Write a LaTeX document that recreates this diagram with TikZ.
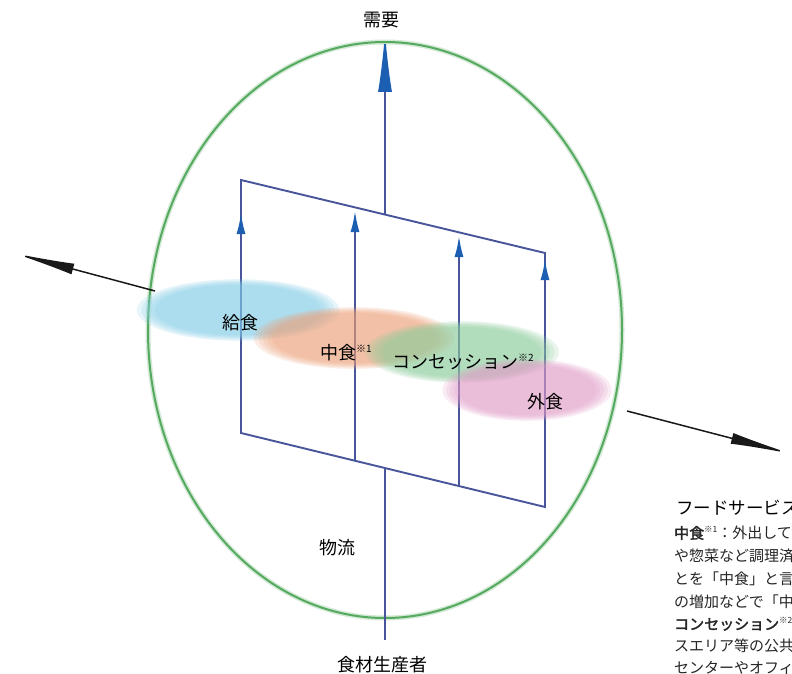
\documentclass[tikz,border=0pt]{standalone}
\usepackage{fontspec}
\newfontfamily\jp[AutoFakeBold=2]{Noto Sans CJK JP}
\usetikzlibrary{arrows.meta}
\definecolor{ovalgreen}{RGB}{85,170,95}
\definecolor{frameblue}{RGB}{72,85,155}
\definecolor{headblue}{RGB}{28,95,178}
\definecolor{kyublue}{RGB}{130,205,232}
\definecolor{nakaorange}{RGB}{238,160,120}
\definecolor{congreen}{RGB}{140,205,155}
\definecolor{gaipink}{RGB}{226,155,200}
\tikzset{
  frame/.style={draw=frameblue, line width=1.9pt},
  uparrow/.style={frame, -{Latex[length=21pt,width=9pt,color=headblue]}},
  mainarrow/.style={frame, -{Latex[length=60pt,width=14pt,color=headblue]}},
  axisarrow/.style={draw=black!90, line width=1.5pt, -{Latex[length=62pt,width=11pt]}},
  lbl/.style={font=\jp\fontsize{18}{20}\selectfont, inner sep=0pt},
  ttl/.style={font=\jp\fontsize{17.5}{20}\selectfont, inner sep=0pt, anchor=west},
  bodytxt/.style={font=\jp\fontsize{15}{18}\selectfont, inner sep=0pt, anchor=west, text=black!85},
}
\newcommand{\plate}[5]{%
  \foreach \s in {1.10,1.05,1.0,0.95,0.90}{
    \fill[#1, opacity=0.19] (#2,#3) ellipse [x radius=\s*#4 pt, y radius=\s*#5 pt];
  }}
\newcommand{\suptag}[2]{\raisebox{0.75ex}{\fontsize{#2}{#2}\selectfont #1}}
\begin{document}
\begin{tikzpicture}[x=1pt,y=-1pt]
\useasboundingbox (0,0) rectangle (792,674);
\clip (0,0) rectangle (792,674);
\fill[white] (0,0) rectangle (792,674);

% coordinates
\coordinate (TL) at (241,180);
\coordinate (TR) at (545,253);
\coordinate (BL) at (241,433);
\coordinate (BR) at (545,507);
\coordinate (T1) at (241,213);
\coordinate (B2) at (355,461); \coordinate (T2) at (355,211);
\coordinate (B3) at (459,486); \coordinate (T3) at (459,236);
\coordinate (T4) at (545,259);
\coordinate (Ctop) at (385,215); \coordinate (Dtip) at (385,32);
\coordinate (Cbot) at (385,468); \coordinate (Src) at (385,640);
\coordinate (AxL0) at (155,291); \coordinate (AxL) at (13,253);
\coordinate (AxR0) at (627,411); \coordinate (AxR) at (792,454);

% green oval
\draw[ovalgreen!25, line width=5pt] (385,330) ellipse [x radius=237pt, y radius=288pt];
\draw[ovalgreen, line width=2pt] (385,330) ellipse [x radius=237pt, y radius=288pt];

% frame
\draw[frame] (TL) -- (TR) -- (BR) -- (BL) -- cycle;
\draw[uparrow] (BL) -- (T1);
\draw[uparrow] (B2) -- (T2);
\draw[uparrow] (B3) -- (T3);
\draw[uparrow] (BR) -- (T4);
\draw[mainarrow] (Ctop) -- (Dtip);
\draw[frame] (Cbot) -- (Src);

% axis
\draw[axisarrow] (AxL0) -- (AxL);
\draw[axisarrow] (AxR0) -- (AxR);

% plates
\plate{kyublue}{238}{310}{92}{28}
\plate{nakaorange}{354}{338}{91}{28}
\plate{congreen}{462}{352}{88}{28}
\plate{gaipink}{527}{390}{77}{28}

% labels
\node[lbl] (demand) at (381,20) {需要};
\node[lbl] (kyu) at (240,323) {給食};
\node[lbl] (naka) at (346,353) {中食\suptag{※1}{10}};
\node[lbl] (con) at (463,362) {コンセッション\suptag{※2}{10}};
\node[lbl] (gai) at (545,402) {外食};
\node[lbl] (butsu) at (337,548) {物流};
\node[lbl] (src) at (382,665) {食材生産者};

% side text
\node[ttl] (t0) at (676,508) {フードサービス};
\node[bodytxt] (t1) at (674,533) {\textbf{中食}\suptag{※1}{8.5}：外出して};
\node[bodytxt] (t2) at (674,556) {や惣菜など調理済};
\node[bodytxt] (t3) at (674,579) {とを「中食」と言};
\node[bodytxt] (t4) at (674,602) {の増加などで「中食};
\node[bodytxt] (t5) at (674,624) {\textbf{コンセッション}\suptag{※2}{8.5}};
\node[bodytxt] (t6) at (674,646) {スエリア等の公共};
\node[bodytxt] (t7) at (674,668) {センターやオフィス};
\end{tikzpicture}
\end{document}
